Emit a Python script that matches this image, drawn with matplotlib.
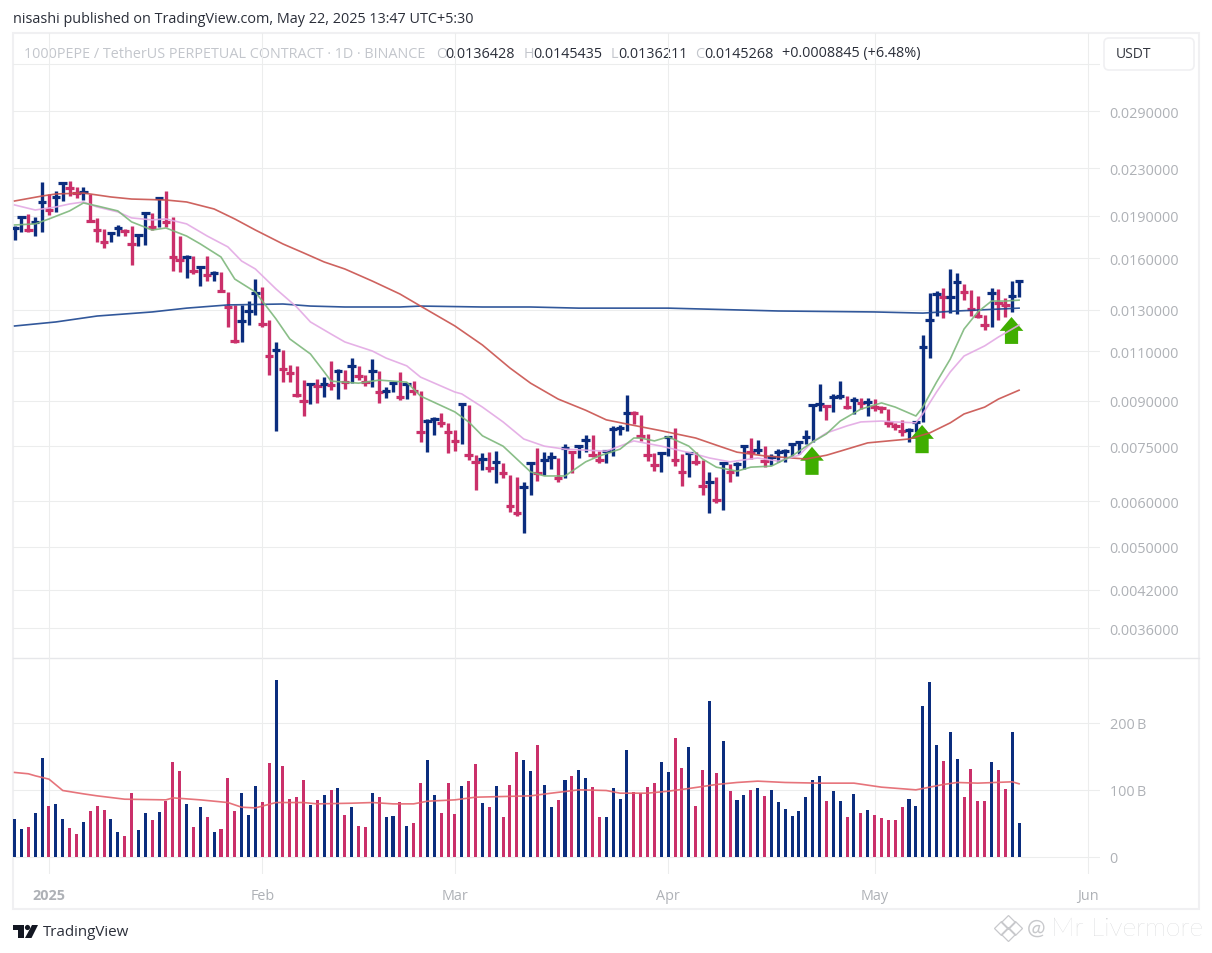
"""
1000PEPE / USDT daily bars with moving averages and volume, TradingView snapshot style.
"""
from matplotlib import pyplot as plt
from matplotlib.patches import FancyBboxPatch, Circle, Polygon, Rectangle
import numpy as np

# all prices below are in units of 0.00001 USDT, volumes in billions
highs = [
    1824, 1891, 1915, 1891, 2178, 2075, 2100, 2178, 2187, 2134, 2134, 2075, 1884, 1801, 1780,
    1831, 1801, 1824, 1758, 1930, 1922, 2050, 2100, 1891, 1751, 1622, 1616, 1552, 1616, 1521,
    1515, 1397, 1326, 1326, 1347, 1472, 1426, 1248, 1142, 1106, 1041, 1037, 979, 967, 983,
    991, 1058, 1024, 1020, 1070, 1037, 999, 1066, 1016, 952, 971, 1012, 967, 975, 937,
    837, 844, 857, 824, 801, 893, 885, 723, 729, 732, 735, 701, 668, 662, 649,
    704, 744, 732, 732, 715, 757, 735, 750, 785, 785, 735, 738, 814, 817, 922,
    864, 850, 788, 729, 732, 782, 807, 726, 732, 732, 709, 676, 662, 704, 698,
    704, 753, 775, 769, 750, 726, 741, 741, 760, 766, 801, 889, 963, 885, 926,
    975, 918, 914, 911, 911, 907, 882, 871, 824, 834, 807, 830, 1174, 1392, 1403,
    1420, 1533, 1509, 1443, 1408, 1375, 1273, 1420, 1414, 1364, 1460, 1466,
]
lows = [
    1723, 1780, 1780, 1751, 1780, 1907, 1930, 2017, 2058, 2041, 2025, 1854, 1710, 1669, 1710,
    1751, 1751, 1558, 1682, 1689, 1794, 1816, 1816, 1521, 1515, 1478, 1502, 1431, 1460, 1460,
    1397, 1213, 1138, 1142, 1223, 1273, 1213, 999, 798, 971, 971, 914, 846, 889, 893,
    914, 940, 907, 944, 967, 979, 955, 952, 893, 911, 933, 903, 907, 922, 763,
    732, 785, 811, 729, 735, 757, 709, 629, 681, 676, 647, 660, 575, 566, 529,
    616, 652, 668, 684, 649, 660, 673, 715, 732, 718, 701, 701, 721, 785, 798,
    820, 766, 706, 678, 676, 721, 692, 639, 662, 695, 616, 573, 596, 580, 649,
    665, 684, 712, 726, 689, 695, 704, 704, 721, 726, 757, 763, 864, 834, 861,
    907, 871, 854, 871, 847, 864, 857, 811, 801, 782, 763, 794, 827, 1070, 1268,
    1258, 1283, 1278, 1352, 1268, 1258, 1198, 1213, 1248, 1263, 1288, 1369,
]
closes = [
    1809, 1891, 1794, 1854, 2009, 1945, 2050, 2169, 2126, 2083, 2092, 1861, 1794, 1710, 1773,
    1809, 1787, 1696, 1758, 1922, 1816, 2041, 1854, 1609, 1590, 1609, 1521, 1546, 1497, 1509,
    1403, 1315, 1147, 1243, 1294, 1392, 1228, 1079, 1106, 1024, 1008, 922, 900, 963, 955,
    963, 959, 1016, 971, 1037, 995, 971, 1016, 933, 937, 967, 914, 963, 937, 794,
    830, 837, 824, 794, 766, 889, 723, 704, 712, 687, 704, 673, 589, 573, 636,
    701, 673, 709, 718, 660, 744, 732, 750, 769, 723, 709, 735, 804, 807, 857,
    857, 782, 723, 695, 729, 779, 709, 676, 729, 704, 639, 649, 604, 701, 676,
    698, 750, 732, 738, 706, 718, 732, 735, 757, 763, 779, 885, 889, 882, 914,
    918, 878, 903, 893, 896, 878, 875, 824, 814, 798, 801, 827, 1119, 1248, 1386,
    1369, 1369, 1455, 1397, 1304, 1268, 1223, 1392, 1336, 1326, 1375, 1460,
]
volumes = [
    56, 41, 44, 65, 148, 76, 79, 56, 43, 34, 52, 68, 76, 70, 56,
    37, 31, 95, 40, 65, 55, 67, 83, 142, 128, 79, 44, 74, 59, 37,
    41, 118, 68, 95, 62, 106, 82, 140, 265, 136, 86, 89, 115, 77, 85,
    92, 100, 103, 62, 74, 46, 44, 95, 89, 59, 61, 82, 46, 50, 110,
    145, 92, 65, 110, 64, 106, 113, 139, 80, 74, 106, 59, 107, 157, 145,
    128, 167, 107, 74, 85, 115, 121, 130, 118, 104, 59, 59, 103, 86, 160,
    97, 95, 104, 110, 142, 127, 178, 133, 164, 76, 130, 233, 125, 173, 98,
    85, 92, 100, 103, 91, 100, 82, 71, 61, 68, 89, 115, 121, 83, 98,
    83, 59, 94, 65, 70, 62, 58, 55, 55, 74, 86, 76, 225, 261, 167,
    143, 186, 146, 89, 131, 83, 83, 142, 130, 101, 186, 50,
]
# days drawn in pink, the others are blue
down_days = [2, 5, 8, 9, 11, 12, 13, 16, 17, 20, 22, 23, 24, 26, 28, 30, 31, 32, 36, 37, 39, 40, 41,
             42, 44, 46, 48, 50, 51, 53, 56, 58, 59, 62, 63, 64, 66, 67, 69, 71, 72, 73, 76, 79, 81,
             84, 85, 90, 91, 92, 93, 96, 97, 99, 100, 102, 104, 107, 109, 118, 121, 123, 125, 126,
             127, 128, 129, 135, 138, 139, 140, 141, 143, 144]

red_days = [0, 4, 6, 10, 14, 17, 22, 25, 29, 32, 35, 39, 42, 45, 48, 52, 56, 59, 64, 68, 72, 75,
            79, 83, 86, 89, 94, 99, 102, 105, 109, 113, 115, 118, 120, 124, 127, 130, 133, 136,
            138, 141, 143, 146]
red_ma = [2017, 2058, 2075, 2083, 2050, 2033, 2025, 2009, 1953, 1876, 1794, 1696, 1636, 1577, 1533,
          1460, 1386, 1320, 1218, 1128, 1028, 967, 907, 867, 834, 820, 798, 775, 753, 732, 721,
          715, 712, 723, 735, 760, 766, 772, 791, 824, 854, 878, 907, 940]

pink_days = [0, 3, 6, 8, 10, 12, 15, 17, 20, 22, 25, 28, 31, 33, 35, 38, 41, 43, 46, 48, 52, 54,
             57, 59, 64, 65, 68, 71, 74, 77, 80, 83, 86, 90, 94, 99, 101, 104, 108, 111, 114, 116,
             118, 121, 123, 126, 128, 131, 132, 134, 136, 138, 141, 143, 146]
pink_ma = [1985, 1945, 1969, 1993, 2009, 1969, 1930, 1884, 1869, 1876, 1839, 1751, 1676, 1583, 1533,
           1414, 1315, 1238, 1179, 1142, 1101, 1070, 1037, 991, 933, 926, 878, 827, 772, 750, 741,
           738, 735, 766, 750, 726, 715, 704, 715, 706, 723, 763, 791, 814, 827, 830, 827, 824,
           854, 933, 1012, 1079, 1124, 1165, 1223]

green_days = [0, 3, 5, 8, 10, 12, 15, 17, 20, 22, 25, 27, 30, 32, 35, 38, 40, 43, 45, 46, 50, 53,
              57, 59, 64, 66, 68, 71, 75, 77, 80, 83, 85, 88, 90, 91, 93, 95, 98, 100, 102, 105,
              107, 110, 113, 116, 118, 120, 123, 126, 128, 131, 132, 134, 136, 138, 140, 142, 144,
              146]
green_ma = [1831, 1839, 1876, 1938, 2001, 1977, 1938, 1854, 1794, 1809, 1751, 1696, 1609, 1472, 1397,
            1253, 1156, 1088, 1012, 975, 967, 979, 971, 918, 861, 827, 782, 750, 676, 665, 665,
            704, 721, 741, 775, 775, 766, 779, 750, 712, 689, 678, 689, 692, 721, 763, 788, 830,
            871, 893, 878, 847, 878, 971, 1066, 1203, 1289, 1347, 1347, 1352]

navy_days = [0, 6, 12, 20, 25, 31, 39, 43, 48, 56, 59, 68, 75, 82, 95, 111, 125, 132, 137, 146]
navy_ma = [1218, 1238, 1268, 1289, 1309, 1326, 1331, 1320, 1315, 1315, 1320, 1315, 1315, 1309, 1309,
           1294, 1289, 1283, 1294, 1309]

vol_ma_days = [0, 2, 3, 5, 7, 10, 12, 16, 22, 23, 27, 31, 33, 35, 38, 42, 44, 49, 52, 55, 58, 60,
               64, 67, 71, 75, 78, 82, 86, 88, 92, 95, 98, 102, 105, 108, 112, 117, 122, 126, 131,
               135, 137, 140, 145, 146]
vol_ma = [126, 124, 121, 116, 99, 94, 91, 86, 85, 88, 85, 81, 74, 73, 81, 81, 79, 80, 81, 79, 79,
          83, 85, 89, 90, 91, 95, 100, 99, 95, 95, 98, 102, 108, 111, 113, 111, 110, 110, 104,
          100, 108, 111, 110, 112, 109]

# green arrows: day, tip price, tail price
arrow_days = [115.9, 131.9, 144.9]
arrow_tips = [748, 817, 1263]
arrow_tails = [668, 729, 1133]

month_days = [5, 36, 64, 95, 125, 156]
month_labels = ["2025", "Feb", "Mar", "Apr", "May", "Jun"]

price_ticks = [0.035, 0.029, 0.023, 0.019, 0.016, 0.013, 0.011, 0.009, 0.0075, 0.006, 0.005, 0.0042, 0.0036]
volume_ticks = [0, 100, 200]
volume_tick_labels = ["0", "100\u2009B", "200\u2009B"]

W, H = 1212, 954
PRICE_UNIT = 1e-5
BLUE = "#0b2d7e"
PINK = "#ca306a"
GRID = "#eceded"
LABEL = "#aeb1b6"
FONT = "Open Sans"


def bar_colors():
    return [PINK if i in down_days else BLUE for i in range(len(closes))]


def pane(fig, x0, y0, x1, y1):
    ax = fig.add_axes([x0 / W, 1 - y1 / H, (x1 - x0) / W, (y1 - y0) / H])
    ax.patch.set_alpha(0)
    for side in ax.spines.values():
        side.set_visible(False)
    ax.set_xlim(-0.23, 157.76)
    ax.set_xticks(month_days)
    ax.grid(True, color=GRID, linewidth=0.75)
    ax.set_axisbelow(True)
    ax.yaxis.tick_right()
    ax.tick_params(length=0, labelcolor=LABEL, labelsize=10.4, pad=7)
    return ax


def draw_page(page):
    page.set_xlim(0, W)
    page.set_ylim(H, 0)
    page.axis("off")
    frame = Rectangle((13, 33.5), 1186, 876.5, fill=False, edgecolor="#f0f0f2", linewidth=1.5)
    page.add_patch(frame)
    page.plot([13, 1199], [659, 659], color="#e6e7ea", linewidth=1)
    button = FancyBboxPatch((1104, 39), 90, 32, boxstyle="round,pad=0,rounding_size=5",
                            facecolor="white", edgecolor="#f0f0f2", linewidth=1.2, zorder=5)
    page.add_patch(button)
    page.text(1116, 54.5, "USDT", color="#33363f", fontsize=10, va="center", family=FONT, zorder=6)

    page.text(13, 19.5, "nisashi published on TradingView.com, May 22, 2025 13:47 UTC+5:30",
              color="#2a2e39", fontsize=10.34, va="center", family=FONT)
    light = "#c3c6cc"
    dark = "#2a2e39"
    header = [
        (24, "1000PEPE / TetherUS PERPETUAL CONTRACT · 1D · BINANCE", light),
        (436, "O", light), (445, "0.0136428", dark),
        (524, "H", light), (533, "0.0145435", dark),
        (611, "L", light), (618, "0.0136211", dark),
        (695, "C", light), (704, "0.0145268", dark),
        (782, "+0.0008845 (+6.48%)", dark),
    ]
    for x, txt, col in header:
        page.text(x, 54, txt, color=col, fontsize=10.35, va="center", family=FONT)

    # TradingView mark
    page.add_patch(Polygon([(13, 926), (23.5, 926), (23.5, 939), (18, 939), (18, 931), (13, 931)],
                           facecolor="#131722", linewidth=0))
    page.add_patch(Circle((27.5, 928.5), 2.6, facecolor="#131722", linewidth=0))
    page.add_patch(Polygon([(32, 926), (38, 926), (31.5, 939), (25, 939)],
                           facecolor="#131722", linewidth=0))
    page.text(43, 933, "TradingView", color="#2a2e39", fontsize=10.9, va="center", family=FONT)

    # watermark
    mark = "#c8c9cc"
    for dx, dy, size in [(0, -6, 7), (-7, 0, 7), (7, 0, 7), (0, 6, 7)]:
        page.plot(1008 + dx, 929 + dy, marker="D", markersize=size, markerfacecolor="none",
                  markeredgecolor=mark, markeredgewidth=0.9)
    page.text(1027, 929, "@", color=mark, fontsize=16, va="center", family="Lato")
    page.text(1051, 929, "Mr Livermore", color=mark, fontsize=19, va="center", family="Lato",
              fontweight="light")


def draw_price(ax):
    days = np.arange(len(closes))
    hi = np.array(highs) * PRICE_UNIT
    lo = np.array(lows) * PRICE_UNIT
    cl = np.array(closes) * PRICE_UNIT
    cols = bar_colors()

    ax.set_yscale("log")
    ax.set_ylim(0.00319, 0.03981)
    ax.set_yticks(price_ticks)
    ax.set_yticks([], minor=True)
    ax.set_yticklabels(["" if p == 0.035 else f"{p:.7f}" for p in price_ticks], family=FONT)
    ax.set_xticklabels([])

    ax.vlines(days, lo, hi, colors=cols, linewidth=2.4, zorder=2, capstyle="butt")
    ax.hlines(cl, days - 0.62, days + 0.62, colors=cols, linewidth=2.3, zorder=2)

    for d, tip, tail in zip(arrow_days, arrow_tips, arrow_tails):
        ax.annotate("", xy=(d, tip * PRICE_UNIT), xytext=(d, tail * PRICE_UNIT), zorder=3,
                    arrowprops=dict(arrowstyle="simple,tail_width=0.95,head_width=1.7,head_length=1.0",
                                    mutation_scale=10, facecolor="#3fae00", edgecolor="none",
                                    linewidth=0, shrinkA=0, shrinkB=0))

    line_kw = dict(linewidth=1.2, alpha=0.9, zorder=4)
    ax.plot(navy_days, np.array(navy_ma) * PRICE_UNIT, color="#1c4690", **line_kw)
    ax.plot(red_days, np.array(red_ma) * PRICE_UNIT, color="#c9524e", **line_kw)
    ax.plot(pink_days, np.array(pink_ma) * PRICE_UNIT, color="#e3a9e4", **line_kw)
    ax.plot(green_days, np.array(green_ma) * PRICE_UNIT, color="#7db77b", **line_kw)


def draw_volume(ax):
    days = np.arange(len(volumes))
    ax.set_ylim(-25.9, 297.2)
    ax.set_yticks(volume_ticks)
    ax.set_yticklabels(volume_tick_labels, family=FONT)
    ax.set_xticklabels(month_labels, family=FONT)
    ax.get_xticklabels()[0].set_fontweight("bold")
    ax.tick_params(axis="x", pad=10)
    ax.bar(days, volumes, width=0.44, color=bar_colors(), linewidth=0, zorder=2)
    ax.plot(vol_ma_days, vol_ma, color="#e4656d", linewidth=1.2, alpha=0.9, zorder=3)


def main():
    plt.rcParams["font.family"] = [FONT, "DejaVu Sans"]
    fig = plt.figure(figsize=(W / 100, H / 100), dpi=100, facecolor="white")
    page = fig.add_axes([0, 0, 1, 1], zorder=0)
    draw_page(page)
    ax_price = pane(fig, 13, 33.5, 1100, 659)
    ax_volume = pane(fig, 13, 659, 1100, 875)
    draw_price(ax_price)
    draw_volume(ax_volume)
    fig.savefig("out.png", dpi=100)


if __name__ == "__main__":
    main()
